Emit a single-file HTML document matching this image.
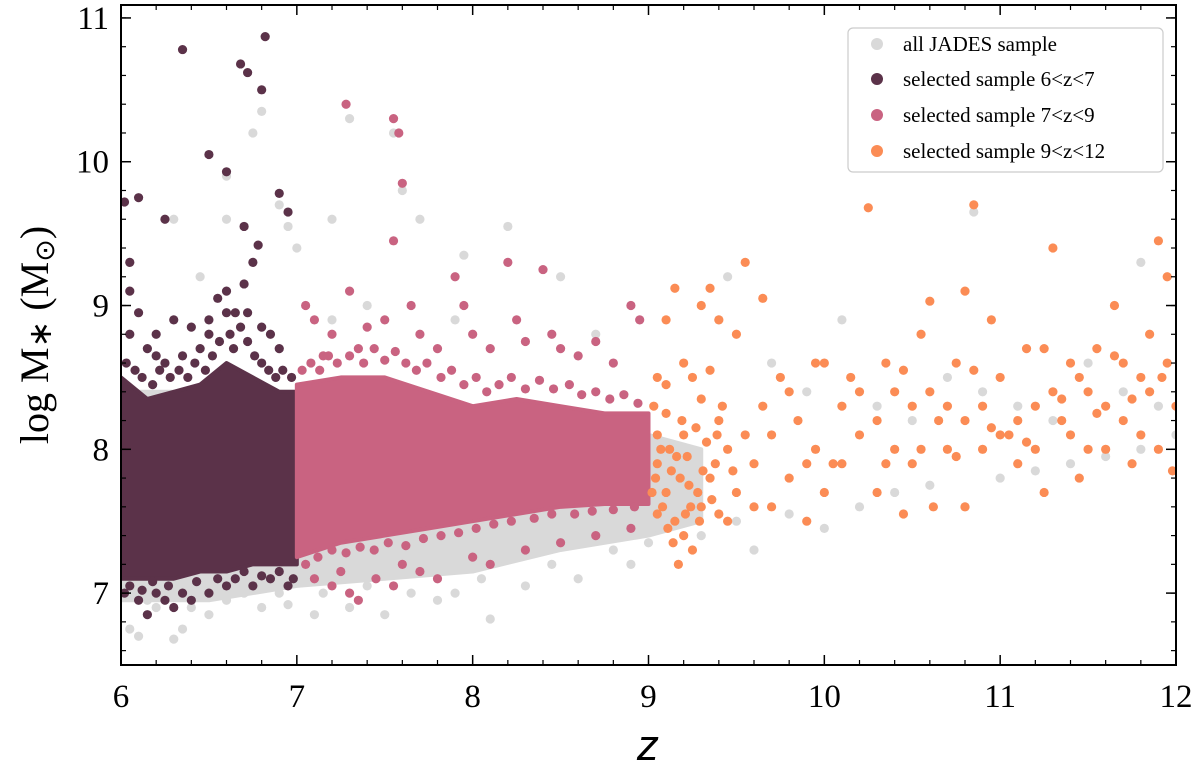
<!DOCTYPE html>
<html><head><meta charset="utf-8"><style>
html,body{margin:0;padding:0;background:#fff;}
svg{display:block;font-family:"Liberation Serif",serif;}
</style></head><body>
<svg id="chart" width="1200" height="773" viewBox="0 0 1200 773">
<defs><clipPath id="clip"><rect x="121" y="5" width="1055" height="660"/></clipPath></defs>
<g clip-path="url(#clip)">
<g id="bg"></g>
<g id="dark"></g>
<g id="pink"></g>
<g id="orange"></g>
</g>
<g id="axes"></g>
</svg>
<script>
const xTicks=[6,7,8,9,10,11,12];
const yTicks=[7,8,9,10,11];
// core density envelopes [z, low, high]
const grayCore=[[6,6.95,8.4],[6.5,6.95,8.4],[7,7.05,8.4],[7.5,7.1,8.3],[8,7.15,8.2],[8.5,7.3,8.2],[9,7.4,8.1],[9.3,7.5,8.0]];
const darkCore=[[6,7.1,8.5],[6.15,7.1,8.35],[6.3,7.1,8.4],[6.45,7.15,8.45],[6.6,7.15,8.6],[6.75,7.2,8.5],[6.9,7.2,8.4],[7,7.2,8.4]];
const pinkCore=[[7,7.25,8.45],[7.25,7.35,8.5],[7.5,7.4,8.5],[7.75,7.45,8.4],[8,7.5,8.3],[8.25,7.55,8.35],[8.5,7.6,8.3],[8.75,7.62,8.25],[9,7.62,8.25]];
const grayPts=[[6.05,6.75],[6.1,6.7],[6.3,6.68],[6.35,6.75],[6.2,6.9],[6.5,6.85],[6.6,6.95],[6.8,6.9],[6.95,6.92],[7.1,6.85],[7.3,6.9],[7.5,6.85],[7.8,6.95],[8.1,6.82],[7.9,7.0],[8.3,7.05],[8.6,7.1],[8.9,7.2],[9.3,7.4],[9.5,7.5],[9.6,7.3],[9.8,7.55],[10.0,7.45],[10.2,7.6],[10.4,7.7],[10.6,7.75],[10.8,7.6],[11.0,7.8],[11.2,7.85],[11.4,7.9],[11.6,7.95],[11.8,8.0],[12.0,8.1],[9.7,8.6],[9.9,8.4],[10.1,8.9],[10.3,8.3],[10.5,8.2],[10.7,8.5],[10.9,8.4],[11.1,8.3],[11.3,8.2],[11.5,8.6],[11.7,8.4],[11.9,8.3],[9.4,8.9],[9.45,9.2],[6.45,9.2],[6.6,9.6],[6.75,10.2],[6.8,10.35],[6.9,9.7],[6.95,9.55],[7.0,9.4],[7.3,10.3],[7.55,10.2],[7.6,9.8],[7.7,9.6],[7.2,9.6],[8.2,9.55],[7.95,9.35],[8.5,9.2],[6.3,9.6],[6.6,9.9],[6.05,9.3],[10.85,9.65],[11.8,9.3],[7.2,8.9],[7.4,9.0],[7.9,8.9],[8.7,8.8],[7.15,7.0],[7.4,7.05],[7.65,7.0],[8.05,7.1],[8.45,7.2],[8.8,7.3],[9.0,7.35],[6.15,6.95],[6.4,6.9],[6.7,7.0],[6.9,7.0]];
const darkPts=[[6.02,9.72],[6.05,9.3],[6.1,9.75],[6.25,9.6],[6.35,10.78],[6.5,10.05],[6.6,9.93],[6.68,10.68],[6.72,10.62],[6.8,10.5],[6.82,10.87],[6.7,9.55],[6.78,9.42],[6.9,9.78],[6.95,9.65],[6.05,9.1],[6.1,8.95],[6.2,8.8],[6.3,8.9],[6.4,8.85],[6.5,8.9],[6.55,9.05],[6.6,9.1],[6.65,8.95],[6.7,9.15],[6.75,9.3],[6.8,8.85],[6.85,8.8],[6.9,8.7],[6.45,8.7],[6.35,8.65],[6.15,8.7],[6.05,8.8],[6.25,8.6],[6.1,6.95],[6.15,6.85],[6.25,6.95],[6.3,6.9],[6.4,6.95],[6.5,7.0],[6.6,7.05],[6.75,7.05],[6.85,7.1],[6.95,7.05],[6.2,7.0],[6.02,7.0],[6.03,8.6],[6.08,8.55],[6.12,8.5],[6.18,8.45],[6.22,8.55],[6.28,8.5],[6.33,8.55],[6.38,8.5],[6.42,8.6],[6.48,8.55],[6.52,8.65],[6.56,8.75],[6.62,8.8],[6.64,8.7],[6.68,8.85],[6.72,8.75],[6.76,8.65],[6.8,8.6],[6.84,8.55],[6.88,8.5],[6.92,8.55],[6.97,8.5],[6.6,8.95],[6.72,8.95],[6.5,8.8],[6.2,8.65],[6.05,7.05],[6.12,7.02],[6.18,7.08],[6.27,7.05],[6.35,7.0],[6.43,7.08],[6.55,7.1],[6.65,7.1],[6.7,7.15],[6.8,7.12],[6.9,7.15],[6.98,7.1]];
const pinkPts=[[7.05,9.0],[7.1,8.9],[7.2,8.8],[7.28,10.4],[7.3,9.1],[7.4,8.85],[7.5,8.9],[7.55,10.3],[7.58,10.2],[7.6,9.85],[7.55,9.45],[7.65,9.0],[7.7,8.8],[7.8,8.7],[7.9,9.2],[7.95,9.0],[8.0,8.8],[8.1,8.7],[8.2,9.3],[8.25,8.9],[8.3,8.75],[8.4,9.25],[8.45,8.8],[8.5,8.7],[8.6,8.65],[8.7,8.75],[8.8,8.6],[8.9,9.0],[8.95,8.9],[7.35,8.7],[7.15,8.65],[7.1,7.1],[7.2,7.05],[7.3,7.0],[7.35,6.95],[7.45,7.1],[7.55,7.05],[7.7,7.15],[7.8,7.1],[8.0,7.25],[8.1,7.2],[8.3,7.3],[8.5,7.35],[8.7,7.4],[8.9,7.45],[7.6,7.2],[7.25,7.15],[7.03,8.55],[7.08,8.6],[7.13,8.55],[7.18,8.65],[7.23,8.6],[7.3,8.65],[7.38,8.6],[7.44,8.7],[7.5,8.62],[7.56,8.68],[7.62,8.6],[7.68,8.55],[7.74,8.6],[7.82,8.5],[7.88,8.55],[7.95,8.45],[8.02,8.5],[8.08,8.4],[8.15,8.45],[8.22,8.5],[8.3,8.42],[8.38,8.48],[8.46,8.42],[8.55,8.45],[8.62,8.38],[8.7,8.4],[8.78,8.35],[8.86,8.38],[8.94,8.32],[7.05,7.2],[7.12,7.25],[7.2,7.3],[7.28,7.28],[7.36,7.32],[7.44,7.3],[7.52,7.35],[7.62,7.33],[7.72,7.38],[7.82,7.4],[7.92,7.42],[8.02,7.45],[8.12,7.48],[8.22,7.5],[8.35,7.52],[8.45,7.55],[8.58,7.55],[8.68,7.57],[8.8,7.58],[8.92,7.6]];
const orangePts=[[9.05,8.5],[9.1,8.9],[9.15,9.12],[9.2,8.6],[9.3,9.0],[9.35,9.12],[9.4,8.9],[9.5,8.8],[9.55,9.3],[9.65,9.05],[9.1,8.25],[9.2,8.1],[9.3,8.35],[9.4,8.2],[9.05,7.9],[9.1,7.7],[9.15,7.5],[9.2,7.4],[9.25,7.3],[9.17,7.2],[9.3,7.6],[9.35,7.8],[9.4,7.55],[9.45,8.0],[9.5,7.7],[9.6,7.9],[9.65,8.3],[9.7,7.6],[9.75,8.5],[9.8,7.8],[9.85,8.2],[9.9,7.5],[9.95,8.0],[10.0,8.6],[10.05,7.9],[10.1,8.3],[10.15,8.5],[10.2,8.1],[10.25,9.68],[10.3,7.7],[10.35,8.6],[10.4,8.0],[10.45,7.55],[10.5,8.3],[10.55,8.8],[10.6,9.03],[10.62,7.6],[10.65,8.2],[10.7,8.0],[10.75,8.6],[10.8,7.6],[10.8,9.1],[10.85,9.7],[10.9,8.0],[10.95,8.9],[11.0,8.5],[11.05,8.1],[11.1,7.9],[11.15,8.7],[11.2,8.3],[11.25,7.7],[11.3,9.4],[11.35,8.2],[11.4,8.6],[11.45,7.8],[11.5,8.4],[11.55,8.7],[11.6,8.0],[11.65,9.0],[11.7,8.2],[11.75,7.9],[11.8,8.5],[11.85,8.8],[11.9,9.45],[11.95,8.6],[12.0,8.3],[11.95,9.2],[11.9,8.0],[11.98,7.85],[9.05,8.1],[9.08,7.6],[9.12,8.0],[9.18,7.8],[9.22,7.95],[9.28,7.7],[9.33,8.05],[9.38,7.9],[9.42,8.3],[9.48,7.85],[9.1,8.45],[9.25,8.5],[9.35,8.55],[9.02,7.7],[9.05,7.55],[9.14,7.35],[9.24,7.6],[9.45,7.5],[9.55,8.1],[9.6,7.6],[9.7,8.1],[9.8,8.4],[9.9,7.9],[10.0,7.7],[10.1,7.9],[10.2,8.4],[10.3,8.2],[10.4,8.4],[10.5,7.9],[10.6,8.4],[10.7,8.3],[10.8,8.2],[10.9,8.3],[11.0,8.1],[11.1,8.2],[11.2,8.0],[11.3,8.4],[11.4,8.1],[11.5,8.0],[11.6,8.3],[11.7,8.6],[11.8,8.1],[11.85,8.4],[11.92,8.5],[10.35,7.9],[10.55,8.0],[10.75,7.95],[10.95,8.15],[11.15,8.05],[11.35,8.35],[11.55,8.25],[11.75,8.35],[9.95,8.6],[10.45,8.55],[10.85,8.55],[11.25,8.7],[11.45,8.5],[11.65,8.65],[9.03,8.3],[9.07,8.0],[9.13,7.85],[9.19,8.2],[9.23,7.75],[9.27,8.15],[9.31,7.85],[9.36,7.65],[9.39,8.1],[9.04,7.8],[9.16,7.95],[9.21,7.55],[9.29,7.5],[9.11,7.45]];

const X0=121,X1=1176,Y0=665,Y1=5,ZMIN=6,ZMAX=12,MMIN=6.5,MMAX=11.09;
const xs=z=>X0+(z-ZMIN)/(ZMAX-ZMIN)*(X1-X0);
const ys=m=>Y0-(m-MMIN)/(MMAX-MMIN)*(Y0-Y1);
const NS="http://www.w3.org/2000/svg";
function mk(tag,attrs,parent){const e=document.createElementNS(NS,tag);for(const k in attrs)e.setAttribute(k,attrs[k]);parent.appendChild(e);return e;}
function area(core,color,g){
  let d="M"+core.map(c=>xs(c[0])+","+ys(c[2])).join("L");
  d+="L"+core.slice().reverse().map(c=>xs(c[0])+","+ys(c[1])).join("L")+"Z";
  const p=mk("path",{d:d,fill:color,stroke:color,"stroke-width":4,"stroke-linejoin":"round"},g);
  
  
}
function pts(arr,color,g){
  arr.forEach(p=>{const c=mk("circle",{cx:xs(p[0]),cy:ys(p[1]),r:4.6,fill:color},g);
  
  });
}
const gBg=document.getElementById("bg"),gD=document.getElementById("dark"),gP=document.getElementById("pink"),gO=document.getElementById("orange"),gA=document.getElementById("axes");
area(grayCore,"#d9d9d9",gBg);pts(grayPts,"#d9d9d9",gBg);
area(darkCore,"#5b3249",gD);pts(darkPts,"#5b3249",gD);
area(pinkCore,"#c96381",gP);pts(pinkPts,"#c96381",gP);
pts(orangePts,"#fb8c55",gO);
const fr=mk("rect",{x:X0,y:Y1,width:X1-X0,height:Y0-Y1,fill:"none",stroke:"#000","stroke-width":2},gA);


xTicks.forEach(t=>{const x=xs(t);
  mk("line",{x1:x,x2:x,y1:Y0,y2:Y0-10,stroke:"#000","stroke-width":1.5},gA);
  mk("line",{x1:x,x2:x,y1:Y1,y2:Y1+10,stroke:"#000","stroke-width":1.5},gA);
  const tx=mk("text",{x:x,y:Y0+42,"text-anchor":"middle","font-size":33},gA);tx.textContent=t;
  
  
  if(t<ZMAX)for(let k=1;k<5;k++){const xm=xs(t+k*0.2);mk("line",{x1:xm,x2:xm,y1:Y0,y2:Y0-5,stroke:"#000","stroke-width":1.2},gA);mk("line",{x1:xm,x2:xm,y1:Y1,y2:Y1+5,stroke:"#000","stroke-width":1.2},gA);}
});
yTicks.forEach(t=>{const y=ys(t);
  mk("line",{x1:X0,x2:X0+10,y1:y,y2:y,stroke:"#000","stroke-width":1.5},gA);
  mk("line",{x1:X1,x2:X1-10,y1:y,y2:y,stroke:"#000","stroke-width":1.5},gA);
  const tx=mk("text",{x:X0-12,y:y+11,"text-anchor":"end","font-size":33},gA);tx.textContent=t;
  
  
});
for(let m=6.6;m<11.05;m+=0.2){const y=ys(m);mk("line",{x1:X0,x2:X0+5,y1:y,y2:y,stroke:"#000","stroke-width":1.2},gA);mk("line",{x1:X1,x2:X1-5,y1:y,y2:y,stroke:"#000","stroke-width":1.2},gA);}
</script>
<svg style="position:absolute;left:0;top:0" width="1200" height="773">
<text x="648" y="760" text-anchor="middle" font-family="Liberation Sans,sans-serif" font-style="italic" font-size="44">z</text>
<text transform="translate(48,335) rotate(-90)" text-anchor="middle" font-family="Liberation Serif,serif" font-size="40">log M<tspan font-size="32" dy="3">∗</tspan><tspan dy="-3"> (M</tspan><tspan font-size="27" dy="6">⊙</tspan><tspan dy="-6">)</tspan></text>
<g font-family="Liberation Serif,serif" font-size="21">
<rect x="848" y="28" width="315" height="144" rx="5" fill="#fff" stroke="#ccc" stroke-width="1.2"/>
<circle cx="877" cy="44" r="6" fill="#d9d9d9"/>
<text x="903" y="51">all JADES sample</text>
<circle cx="877" cy="79" r="6" fill="#5b3249"/>
<text x="903" y="86">selected sample 6&lt;z&lt;7</text>
<circle cx="877" cy="115" r="6" fill="#c96381"/>
<text x="903" y="122">selected sample 7&lt;z&lt;9</text>
<circle cx="877" cy="151" r="6" fill="#fb8c55"/>
<text x="903" y="158">selected sample 9&lt;z&lt;12</text>
</g>
</svg>
</body></html>
